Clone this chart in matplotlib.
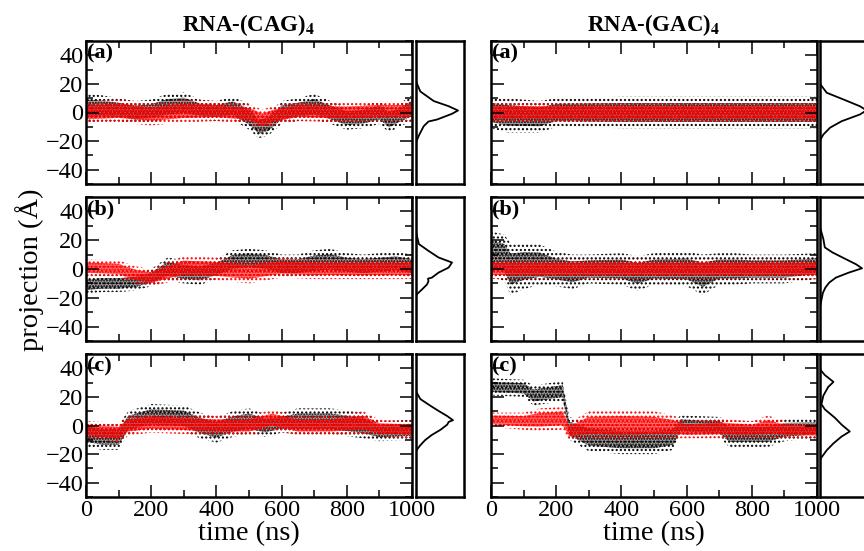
import matplotlib
matplotlib.use("Agg")
import matplotlib.pyplot as plt
import numpy as np

plt.rcParams['font.family'] = ['Liberation Serif', 'DejaVu Serif']
plt.rcParams['mathtext.fontset'] = 'stix'
plt.rcParams['hatch.linewidth'] = 1.0

# ---- trajectories: time knots, band centre, band half-width ----
# RNA-(CAG)4 (a)
cag_a_black_t = [0, 50, 100, 150, 200, 250, 300, 350, 400, 450, 500, 530, 560, 600, 650, 700, 750, 800, 850, 900, 930, 960, 1000]
cag_a_black_mid = [3, 3, 2, 0, 1, 4, 5, 2, 1, 3, -3, -10, -8, 0, 2, 4, 0, -4, -3, 0, -5, -2, 3]
cag_a_black_half = [10, 9, 8, 8, 8, 9, 9, 7, 7, 8, 9, 8, 8, 8, 8, 9, 8, 8, 8, 8, 9, 8, 9]
cag_a_red_t = [0, 100, 200, 300, 400, 500, 540, 580, 650, 800, 900, 1000]
cag_a_red_mid = [0, 1, -1, 1, 1, -1, -5, -2, 1, 0, 1, 1]
cag_a_red_half = [8, 8, 8, 8, 7, 7, 7, 7, 7, 7, 7, 7]

# RNA-(CAG)4 (b)
cag_b_black_t = [0, 50, 100, 150, 200, 250, 300, 350, 400, 450, 500, 550, 600, 650, 700, 750, 800, 850, 900, 950, 1000]
cag_b_black_mid = [-11, -10, -10, -9, -6, 0, -2, -3, 0, 5, 6, 5, 2, 2, 4, 5, 3, 2, 3, 4, 2]
cag_b_black_half = [6, 6, 6, 6, 6, 8, 8, 8, 7, 8, 8, 8, 8, 8, 9, 9, 8, 8, 8, 8, 8]
cag_b_red_t = [0, 100, 150, 200, 240, 300, 400, 500, 600, 700, 800, 900, 1000]
cag_b_red_mid = [1, 0, -4, -6, -3, 1, 0, -2, 1, 0, 0, 0, 0]
cag_b_red_half = [6, 6, 6, 6, 7, 8, 8, 8, 7, 7, 7, 7, 7]

# RNA-(CAG)4 (c)
cag_c_black_t = [0, 50, 100, 130, 200, 300, 350, 400, 450, 500, 550, 600, 650, 750, 850, 900, 1000]
cag_c_black_mid = [-6, -8, -8, 2, 6, 5, 0, -3, 1, 3, 0, 2, 3, 3, 0, -4, -3]
cag_c_black_half = [9, 9, 9, 8, 9, 9, 9, 9, 9, 9, 8, 7, 9, 9, 9, 7, 7]
cag_c_red_t = [0, 100, 130, 200, 300, 400, 500, 570, 650, 750, 850, 900, 1000]
cag_c_red_mid = [-3, -5, 0, 2, 1, 0, 0, 4, 0, 0, 2, -2, -3]
cag_c_red_half = [6, 7, 7, 7, 7, 7, 7, 7, 7, 7, 8, 6, 6]

# RNA-(GAC)4 (a)
gac_a_black_t = [0, 50, 150, 200, 400, 600, 800, 1000]
gac_a_black_mid = [0, -2, -3, 0, 0, 0, 0, 0]
gac_a_black_half = [11, 12, 11, 10, 11, 11, 11, 11]
gac_a_red_t = [0, 1000]
gac_a_red_mid = [0, 0]
gac_a_red_half = [7, 7]

# RNA-(GAC)4 (b)
gac_b_black_t = [0, 40, 60, 100, 150, 200, 250, 300, 400, 450, 500, 600, 650, 700, 750, 800, 900, 1000]
gac_b_black_mid = [10, 8, 0, 2, 3, 0, -2, 0, 0, -3, 0, 0, -4, 0, 0, 0, 0, 2]
gac_b_black_half = [16, 16, 18, 16, 14, 12, 12, 10, 11, 12, 11, 12, 14, 11, 11, 10, 10, 9]
gac_b_red_t = [0, 1000]
gac_b_red_mid = [0, 0]
gac_b_red_half = [7, 7]

# RNA-(GAC)4 (c)
gac_c_black_t = [0, 100, 130, 220, 240, 300, 400, 500, 560, 580, 700, 730, 850, 900, 1000]
gac_c_black_mid = [27, 26, 21, 24, -2, -8, -10, -10, -8, 0, -1, -6, -6, -3, -2]
gac_c_black_half = [6, 6, 7, 7, 8, 10, 10, 10, 9, 7, 7, 9, 9, 8, 7]
gac_c_red_t = [0, 100, 150, 220, 240, 300, 400, 500, 560, 600, 700, 800, 850, 900, 1000]
gac_c_red_mid = [4, 3, 4, 5, -4, 0, 0, 0, -1, -3, -2, -3, -1, -3, -4]
gac_c_red_half = [5, 6, 8, 8, 6, 10, 11, 10, 8, 6, 7, 6, 8, 6, 5]

# ---- distributions in the side panels (projection, relative density) ----
cag_a_hist_y = [22, 21, 14.7, 8, 4.4, 1.4, -0.9, -4.9, -6.3, -9.6, -15.4, -20, -21]
cag_a_hist_p = [0, 0.01, 0.09, 0.37, 0.68, 0.875, 0.75, 0.44, 0.26, 0.16, 0.07, 0.01, 0]
cag_b_hist_y = [26, 24.3, 17.3, 12.6, 8, 4.5, 1, -2.5, -6, -6.7, -8.5, -10.7, -14.2, -17.8, -19]
cag_b_hist_p = [0, 0.01, 0.06, 0.26, 0.47, 0.75, 0.68, 0.47, 0.33, 0.25, 0.26, 0.23, 0.125, 0.01, 0]
cag_c_hist_y = [25, 23.3, 18.5, 13.8, 10.2, 6.6, 3.7, 2.5, 0.6, -3, -6.6, -10.2, -13.8, -17.3, -19]
cag_c_hist_p = [0, 0.01, 0.09, 0.3, 0.47, 0.65, 0.77, 0.68, 0.65, 0.51, 0.33, 0.19, 0.09, 0.01, 0]
gac_a_hist_y = [21, 19.6, 13.8, 9.1, 4.4, 1.5, -1.4, -6.1, -10.6, -15.4, -19, -21]
gac_a_hist_p = [0, 0.01, 0.14, 0.49, 0.83, 0.97, 0.83, 0.45, 0.21, 0.07, 0.01, 0]
gac_b_hist_y = [29, 27.9, 20.8, 15, 11.5, 6.8, 3.3, 0.5, -2.5, -6, -9.5, -13, -16.6, -24.8, -26]
gac_b_hist_p = [0, 0.01, 0.07, 0.1, 0.26, 0.54, 0.75, 0.875, 0.6, 0.33, 0.19, 0.11, 0.06, 0.01, 0]
gac_c_hist_y = [41, 38.9, 35.3, 30.5, 26.9, 20.9, 14.9, 11.3, 5.4, 0.6, -4.2, -7.7, -12.5, -17.3, -23.3, -25]
gac_c_hist_p = [0, 0.01, 0.1, 0.28, 0.17, 0.07, 0.03, 0.1, 0.31, 0.45, 0.62, 0.45, 0.28, 0.14, 0.01, 0]

panel_tags = ['(a)', '(b)', '(c)']
titles = [r'RNA-(CAG)$_{\mathbf{4}}$', r'RNA-(GAC)$_{\mathbf{4}}$']

series = [
    [(cag_a_black_t, cag_a_black_mid, cag_a_black_half, cag_a_red_t, cag_a_red_mid, cag_a_red_half, cag_a_hist_y, cag_a_hist_p),
     (cag_b_black_t, cag_b_black_mid, cag_b_black_half, cag_b_red_t, cag_b_red_mid, cag_b_red_half, cag_b_hist_y, cag_b_hist_p),
     (cag_c_black_t, cag_c_black_mid, cag_c_black_half, cag_c_red_t, cag_c_red_mid, cag_c_red_half, cag_c_hist_y, cag_c_hist_p)],
    [(gac_a_black_t, gac_a_black_mid, gac_a_black_half, gac_a_red_t, gac_a_red_mid, gac_a_red_half, gac_a_hist_y, gac_a_hist_p),
     (gac_b_black_t, gac_b_black_mid, gac_b_black_half, gac_b_red_t, gac_b_red_mid, gac_b_red_half, gac_b_hist_y, gac_b_hist_p),
     (gac_c_black_t, gac_c_black_mid, gac_c_black_half, gac_c_red_t, gac_c_red_mid, gac_c_red_half, gac_c_hist_y, gac_c_hist_p)],
]

W, H = 864, 551
fig = plt.figure(figsize=(W / 100, H / 100), dpi=100)


def px_axes(x0, y0, x1, y1):
    return fig.add_axes([x0 / W, 1 - y1 / H, (x1 - x0) / W, (y1 - y0) / H])


def band(ax, t, mid, half, color, core_alpha):
    t = np.asarray(t, float)
    mid = np.asarray(mid, float)
    half = np.asarray(half, float)
    # sparse outer cloud of points
    ax.fill_between(t, mid - half, mid + half, facecolor='none', edgecolor=color,
                    hatch='....', linewidth=0)
    # dense core of points
    ax.fill_between(t, mid - 0.6 * half, mid + 0.6 * half, facecolor=color,
                    alpha=core_alpha, linewidth=0)
    ax.fill_between(t, mid - 0.6 * half, mid + 0.6 * half, facecolor='none',
                    edgecolor=color, hatch='......', linewidth=0)


col_x = [(86, 412, 416, 464), (491, 817, 820, 868)]
row_y = [(41, 184), (197, 341), (354, 497)]

for c, (mx0, mx1, sx0, sx1) in enumerate(col_x):
    for r, (y0, y1) in enumerate(row_y):
        bt, bm, bh, rt, rm, rh, hy, hp = series[c][r]
        ax = px_axes(mx0, y0, mx1, y1)
        band(ax, bt, bm, bh, 'black', 0.35)
        band(ax, rt, rm, rh, '#ff0000', 0.55)
        ax.set_xlim(0, 1000)
        ax.set_ylim(-50, 50)
        ax.set_xticks(np.arange(0, 1001, 200))
        ax.set_xticks(np.arange(0, 1001, 100), minor=True)
        ax.set_yticks(np.arange(-40, 41, 20))
        ax.set_yticks(np.arange(-50, 51, 10), minor=True)
        ax.tick_params(which='both', direction='in', top=True, right=True,
                       labelsize=17.5, width=1.1, pad=2)
        ax.tick_params(which='major', length=9)
        ax.tick_params(which='minor', length=4.8)
        for s in ax.spines.values():
            s.set_linewidth(1.8)
        if c != 0:
            ax.set_yticklabels([])
        if r != 2:
            ax.set_xticklabels([])
        else:
            ax.set_xlabel('time (ns)', fontsize=20.5, labelpad=0)
        ax.text(0.004, 0.985, panel_tags[r], transform=ax.transAxes, ha='left', va='top',
                fontsize=16, fontweight='bold')

        hx = px_axes(sx0, y0, sx1, y1)
        hx.plot(hp, hy, color='black', linewidth=1.3)
        hx.set_xlim(0, 1)
        hx.set_ylim(-50, 50)
        hx.set_xticks([])
        hx.set_yticks([])
        for s in hx.spines.values():
            s.set_linewidth(1.8)

    fig.text((mx0 + mx1) / 2 / W, 1 - 31 / H, titles[c], ha='center', va='baseline',
             fontsize=16.5, fontweight='bold')

fig.text(30 / W, 1 - 270 / H, 'projection (Å)', rotation=90, ha='center', va='center',
         fontsize=20.5)

fig.savefig('out.png', dpi=100)
